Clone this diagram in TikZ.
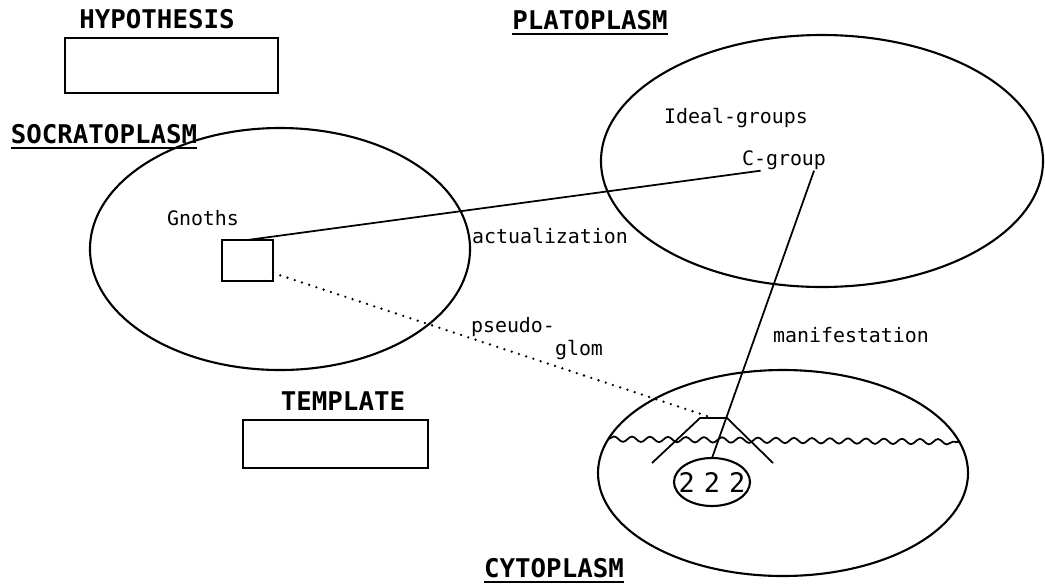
\documentclass[tikz,border=0pt]{standalone}
\usepackage{fontspec}
\setmonofont{DejaVu Sans Mono}
\usetikzlibrary{shapes.geometric,decorations.pathmorphing}

\begin{document}
\begin{tikzpicture}[
x=0.03cm,y=-0.03cm,
lbl/.style={
  anchor=base,
  inner sep=1pt,
  font=\ttfamily\fontsize{17}{19}\selectfont
},
headtxt/.style={
  anchor=base,
  inner xsep=0pt,
  inner ysep=4pt,
  font=\ttfamily\bfseries\fontsize{22}{24}\selectfont
},
uline/.style={
  headtxt,
  append after command={(\tikzlastnode.south west) edge[line width=1.6pt] (\tikzlastnode.south east)}
},
blob/.style={
  draw,
  ellipse,
  line width=1.8pt,
  inner sep=0pt,
  outer sep=0pt
},
slot/.style={
  draw,
  rectangle,
  line width=2.2pt,
  inner sep=0pt,
  outer sep=0pt
},
link/.style={line width=1.5pt},
dots/.style={
  line width=2.2pt,
  line cap=round,
  dash pattern=on 0pt off 6.5pt
},
wave/.style={
  line width=1.5pt,
  decorate,
  decoration={snake,segment length=0.54cm,amplitude=0.08cm}
}
]
\useasboundingbox (0,0) rectangle (1045,585);

\node[blob,minimum width=13.26cm,minimum height=7.56cm] 
  (plato) at (822,161) {};
\node[blob,minimum width=11.4cm,minimum height=7.26cm] 
  (socra) at (280,249) {};
\node[blob,minimum width=11.1cm,minimum height=6.18cm] 
  (cyto) at (783,473) {};
\node[blob,minimum width=2.28cm,minimum height=1.44cm,
  label={[inner sep=0pt,font=\ttfamily\fontsize{23}{25}\selectfont]center:2\,\,2\,\,2}] 
  (glom) at (712,482) {};

\node[slot,minimum width=6.39cm,minimum height=1.65cm] 
  (hypbox) at (171.5,65.5) {};
\node[slot,minimum width=5.55cm,minimum height=1.44cm] 
  (tmpbox) at (335.5,444) {};
\node[slot,minimum width=1.53cm,minimum height=1.23cm] 
  (gbox) at (247.5,260.5) {};

\node[headtxt] (hyp) at (157,28) {HYPOTHESIS};
\node[uline] (platolbl) at (590,29) {PLATOPLASM};
\node[uline] (socralbl) at (104,143) {SOCRATOPLASM};
\node[headtxt] (tmp) at (343,410) {TEMPLATE};
\node[uline] (cytolbl) at (554,577) {CYTOPLASM};

\node[lbl] (gnoths) at (203,225) {Gnoths};
\node[lbl] (ideal) at (736,123) {Ideal-groups};
\node[lbl] (cgroup) at (784,165) {C-group};
\node[lbl] (act) at (550,243) {actualization};
\node[lbl] (pseudo) at (513,332) {pseudo-};
\node[lbl] (glomlbl) at (579,355) {glom};
\node[lbl] (manif) at (851,342) {manifestation};

\coordinate (footl) at (652,463);
\coordinate (hatl) at (700,418);
\coordinate (hattop) at (713,418);
\coordinate (hatr) at (727,418);
\coordinate (footr) at (773,463);

\draw[wave] (cyto.169.7) -- (cyto.10.3);
\draw[link] (footl) -- (hatl) -- (hatr) -- (footr);

\draw[link] (gbox.north) -- ([xshift=0.6cm]cgroup.south west);
\draw[link] ([xshift=-0.4cm]cgroup.south east) -- (glom.north);
\draw[dots] (gbox.-26) -- (hattop);
\end{tikzpicture}
\end{document}
